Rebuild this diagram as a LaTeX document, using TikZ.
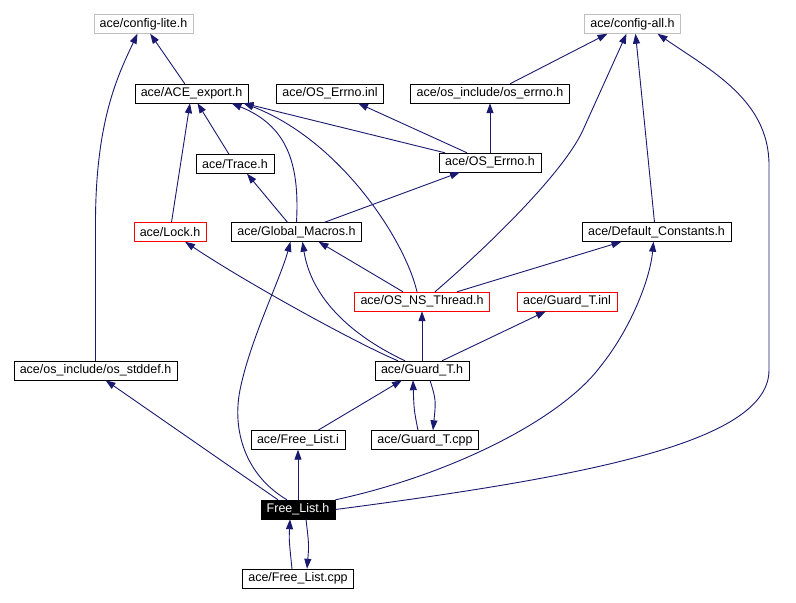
\documentclass[tikz,border=0pt]{standalone}
\usepackage{fontspec}
\setmainfont{Liberation Sans}
\usetikzlibrary{arrows.meta}
\definecolor{edgeblue}{HTML}{191970}
\definecolor{extgray}{HTML}{BFBFBF}

\begin{document}
\begin{tikzpicture}[x=1pt,y=-1pt,
    every node/.style={font=\fontsize{12.5}{14}\selectfont, inner xsep=6pt, inner ysep=0pt, minimum height=19pt},
    hdr/.style={draw=black, fill=white},
    ext/.style={draw=extgray, fill=white},
    undoc/.style={draw=red, fill=white},
    cur/.style={draw=black, fill=black, text=white},
    inc/.style={draw=edgeblue, line width=0.9pt, -{Triangle[length=10pt,width=7pt]}}]
        \useasboundingbox (0,0) rectangle (796,603);
        % files
        \node[ext]   (lite)     at (143.5,24)   {ace/config-lite.h};
        \node[ext]   (cfgall)   at (632.5,24)   {ace/config-all.h};
        \node[hdr]   (export)   at (191.5,93.5) {ace/ACE\_export.h};
        \node[hdr]   (errinl)   at (330,93.5)   {ace/OS\_Errno.inl};
        \node[hdr]   (errnoinc) at (490,93.5)   {ace/os\_include/os\_errno.h};
        \node[hdr]   (trace)    at (235,164)    {ace/Trace.h};
        \node[hdr]   (errno)    at (490,162.5)  {ace/OS\_Errno.h};
        \node[undoc] (lock)     at (170,232)    {ace/Lock.h};
        \node[hdr]   (macros)   at (296.5,232)  {ace/Global\_Macros.h};
        \node[hdr]   (defconst) at (656.5,232)  {ace/Default\_Constants.h};
        \node[undoc] (thread)   at (422,301.5)  {ace/OS\_NS\_Thread.h};
        \node[undoc] (guardinl) at (567,301.5)  {ace/Guard\_T.inl};
        \node[hdr]   (stddef)   at (95.5,370.5) {ace/os\_include/os\_stddef.h};
        \node[hdr]   (guardh)   at (422,370.5)  {ace/Guard\_T.h};
        \node[hdr]   (freei)    at (298,440)    {ace/Free\_List.i};
        \node[hdr]   (guardcpp) at (425,440)    {ace/Guard\_T.cpp};
        \node[cur]   (freeh)    at (298,509.5)  {Free\_List.h};
        \node[hdr]   (freecpp)  at (298,578.5)  {ace/Free\_List.cpp};
        % includes
        \draw[inc] (export) -- (lite);
        \draw[inc] (stddef.north) -- (95.5,220) .. controls (96,120) and (118,75) .. ([xshift=-6]lite.south);
        \draw[inc] ([xshift=20]errnoinc.north) -- ([xshift=-25]cfgall.south);
        \draw[inc] ([xshift=13]thread.north) .. controls (495,240) and (565,170) .. (583,130) -- ([xshift=-6]cfgall.south);
        \draw[inc] ([xshift=-2]defconst.north) -- ([xshift=3]cfgall.south);
        \draw[inc] (freeh.east) .. controls (600,475) and (769,440) .. (769,370) -- (769,165) .. controls (769,100) and (710,70) .. ([xshift=25]cfgall.south);
        \draw[inc] (trace) -- (export);
        \draw[inc] (lock) -- (export);
        \draw[inc] (macros.north) .. controls (300,160) and (285,125) .. ([xshift=40]export.south);
        \draw[inc] ([xshift=-5]thread.north) .. controls (405,240) and (340,140) .. ([xshift=52]export.south);
        \draw[inc] ([xshift=-45]errno.north) -- ([xshift=52]export.south);
        \draw[inc] ([xshift=-23]errno.north) -- ([xshift=28]errinl.south);
        \draw[inc] (errno) -- (errnoinc);
        \draw[inc] ([xshift=-9]macros.north) -- ([xshift=12]trace.south);
        \draw[inc] ([xshift=28]macros.north) -- ([xshift=-30]errno.south);
        \draw[inc] ([xshift=-19]thread.north) -- ([xshift=22]macros.south);
        \draw[inc] ([xshift=35]thread.north) -- ([xshift=-35]defconst.south);
        \draw[inc] ([xshift=-24]guardh.north) .. controls (360,345) and (250,285) .. ([xshift=15]lock.south);
        \draw[inc] ([xshift=-17]guardh.north) .. controls (340,330) and (310,290) .. ([xshift=6]macros.south);
        \draw[inc] (guardh) -- (thread);
        \draw[inc] ([xshift=20]guardh.north) -- ([xshift=-21]guardinl.south);
        \draw[inc] ([xshift=-7]guardcpp.north) .. controls (414,410) .. ([xshift=-9]guardh.south);
        \draw[inc] ([xshift=8]guardh.south) .. controls (436,400) .. ([xshift=8]guardcpp.north);
        \draw[inc] ([xshift=20]freei.north) -- ([xshift=-20]guardh.south);
        \draw[inc] (freeh) -- (freei);
        \draw[inc] ([xshift=-20]freeh.north) -- ([xshift=10]stddef.south);
        \draw[inc] ([xshift=-11]freeh.north) .. controls (245,475) and (232,430) .. (240,390) .. controls (250,340) and (280,280) .. ([xshift=-6]macros.south);
        \draw[inc] (freeh.north east) .. controls (450,475) and (560,420) .. (600,367) .. controls (630,330) and (650,280) .. ([xshift=-3]defconst.south);
        \draw[inc] ([xshift=-6]freecpp.north) .. controls (289,540) .. ([xshift=-8]freeh.south);
        \draw[inc] ([xshift=8]freeh.south) .. controls (309,545) .. ([xshift=9]freecpp.north);
    \end{tikzpicture}
\end{document}
